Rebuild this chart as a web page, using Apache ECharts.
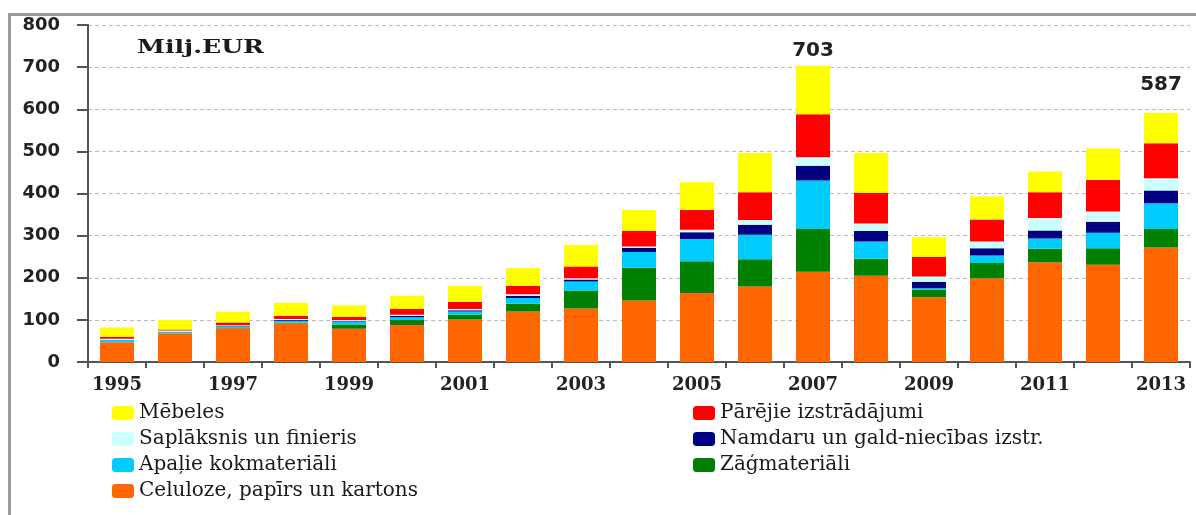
<!DOCTYPE html>
<html>
<head>
<meta charset="utf-8">
<script src="https://cdn.jsdelivr.net/npm/echarts@6/dist/echarts.min.js"></script>
<style>
html,body{margin:0;padding:0;background:#fff;}
#chart{width:1196px;height:515px;}
</style>
</head>
<body>
<div id="chart"></div>
<script>
const years = ['1995','1996','1997','1998','1999','2000','2001','2002','2003','2004','2005','2006','2007','2008','2009','2010','2011','2012','2013'];
const yTicks = [0,100,200,300,400,500,600,700,800];
// stacked from bottom to top
const celuloze   = [47,68,80,92,79,88,101,120,127,146,164,179,214,205,154,199,237,231,272];
const zagmater   = [0,0,2,1,10,12,12,18,43,78,75,65,102,40,18,36,32,39,44];
const apalie     = [5,3,3,5,7,6,7,14,21,37,53,58,115,41,3,18,24,37,61];
const namdaru    = [1,1,1,2,2,3,3,5,5,10,16,24,35,25,15,17,19,26,30];
const saplaksnis = [2,3,1,2,2,3,3,4,3,3,6,11,20,18,13,16,30,24,29];
const parejie    = [5,2,7,8,7,14,17,20,28,37,47,66,102,72,46,52,61,75,83];
const mebeles    = [22,23,25,30,27,31,38,42,51,50,66,93,115,95,47,55,49,75,72];
const labelYears  = ['2007','2013'];
const labelValues = ['703','587'];
const unitText = 'Milj.EUR';

const names = {
  mebeles: 'Mēbeles',
  parejie: 'Pārējie izstrādājumi',
  saplaksnis: 'Saplāksnis un finieris',
  namdaru: 'Namdaru un gald-niecības izstr.',
  apalie: 'Apaļie kokmateriāli',
  zagmater: 'Zāģmateriāli',
  celuloze: 'Celuloze, papīrs un kartons'
};
const colors = {
  celuloze: '#FF6600', zagmater: '#008000', apalie: '#00CCFF', namdaru: '#000080',
  saplaksnis: '#CCFFFF', parejie: '#FF0000', mebeles: '#FFFF00'
};
const labelGap = {'2007': 5, '2013': 18};

function bar(key, data) {
  return {
    name: names[key], type: 'bar', stack: 'total', barWidth: 34,
    itemStyle: { color: colors[key] }, data: data, z: 2
  };
}
const mebData = mebeles.map((v, i) => {
  const k = labelYears.indexOf(years[i]);
  if (k < 0) return v;
  return { value: v, label: { show: true, position: 'top', distance: labelGap[years[i]],
    formatter: labelValues[k], fontFamily: 'DejaVu Sans', fontWeight: 'bold', fontSize: 20, color: '#222' } };
});

const legendText = { fontFamily: 'DejaVu Serif', fontSize: 20, color: '#1a1a1a', lineHeight: 20 };
const chart = echarts.init(document.getElementById('chart'), null, { renderer: 'canvas' });
chart.setOption({
  backgroundColor: '#fff',
  animation: false,
  grid: { left: 88, right: 6, top: 25, bottom: 153, containLabel: false },
  legend: [
    { orient: 'vertical', left: 112, top: 403, padding: 0, itemWidth: 22, itemHeight: 14, itemGap: 6,
      icon: 'roundRect', textStyle: legendText, selectedMode: false,
      data: [names.mebeles, names.saplaksnis, names.apalie, names.celuloze] },
    { orient: 'vertical', left: 693, top: 403, padding: 0, itemWidth: 22, itemHeight: 14, itemGap: 6,
      icon: 'roundRect', textStyle: legendText, selectedMode: false,
      data: [names.parejie, names.namdaru, names.zagmater] }
  ],
  xAxis: {
    type: 'category', data: years, boundaryGap: true,
    axisLine: { show: true, lineStyle: { color: '#555', width: 2 } },
    axisTick: { show: true, interval: 0, length: 6, alignWithLabel: false, lineStyle: { color: '#555', width: 2 } },
    axisLabel: { interval: 1, margin: 14, fontFamily: 'DejaVu Serif', fontWeight: 'bold', fontSize: 18, color: '#222' }
  },
  yAxis: {
    type: 'value', min: yTicks[0], max: yTicks[yTicks.length - 1], interval: yTicks[1] - yTicks[0],
    axisLine: { show: true, lineStyle: { color: '#555', width: 2 } },
    axisTick: { show: true, length: 11, lineStyle: { color: '#555', width: 2 } },
    axisLabel: { margin: 28, fontFamily: 'DejaVu Sans', fontWeight: 'bold', fontSize: 18, color: '#222' },
    splitLine: { show: true, lineStyle: { color: '#bbb', type: [4, 3], width: 1 } }
  },
  series: [
    bar('celuloze', celuloze),
    bar('zagmater', zagmater),
    bar('apalie', apalie),
    bar('namdaru', namdaru),
    bar('saplaksnis', saplaksnis),
    bar('parejie', parejie),
    bar('mebeles', mebData)
  ],
  graphic: [
    { type: 'line', shape: { x1: 9.5, y1: 14, x2: 9.5, y2: 515 }, style: { stroke: '#9a9a9a', lineWidth: 3 }, z: 10 },
    { type: 'line', shape: { x1: 8, y1: 14.5, x2: 1196, y2: 14.5 }, style: { stroke: '#9a9a9a', lineWidth: 3 }, z: 10 },
    { type: 'text', x: 137, y: 48, scaleX: 1.4, z: 10,
      style: { text: unitText, fill: '#1a1a1a', fontFamily: 'DejaVu Serif', fontWeight: 'bold', fontSize: 18,
               textAlign: 'left', verticalAlign: 'middle', textVerticalAlign: 'middle' } }
  ]
});
</script>
</body>
</html>
